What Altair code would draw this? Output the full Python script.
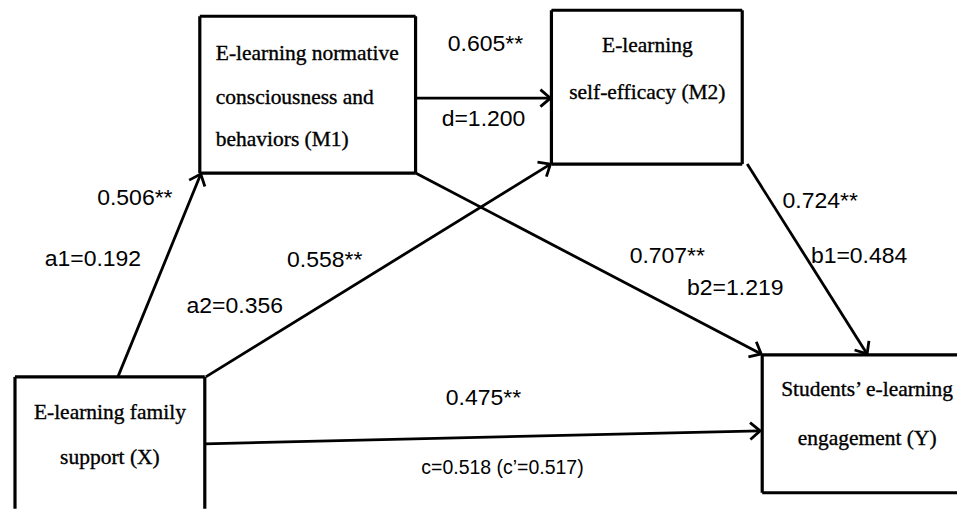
import altair as alt
import numpy as np
import pandas as pd

# ---- content ----
node_ids = ["M1", "M2", "X", "Y"]
node_lines = [
    ["E-learning normative", "consciousness and", "behaviors (M1)"],
    ["E-learning", "self-efficacy (M2)"],
    ["E-learning family", "support (X)"],
    ["Students\u2019 e-learning", "engagement (Y)"],
]
coef_labels = ["0.605**", "d=1.200", "0.506**", "a1=0.192", "0.558**", "a2=0.356",
               "0.724**", "b1=0.484", "0.707**", "b2=1.219", "0.475**"]
total_label = "c=0.518 (c\u2019=0.517)"

# ---- layout (pixel positions of the diagram) ----
box_x1 = [200, 552, 15, 763]
box_x2 = [416, 743, 205, 1100]
box_y1 = [15, 9, 376, 354]
box_y2 = [172, 163, 600, 492]

line_x = [[216, 216, 216], [648, 648], [110, 110], [868, 868]]
line_y = [[53, 97, 139], [45, 92], [412, 457], [389, 438]]

edge_x1 = [416, 118, 206, 416, 748, 205]
edge_y1 = [97, 376, 376, 172, 163, 443]
edge_x2 = [551, 201, 551, 762, 868, 761]
edge_y2 = [97, 173, 163, 353, 353, 430]

coef_x = [486, 484, 135, 93, 325, 235, 821, 860, 668, 736, 484]
coef_y = [43, 118, 197, 258, 259, 305, 200, 255, 255, 287, 397]
total_x = [503]
total_y = [467]

W, H = 951, 501
X_MAX, Y_MAX = 8 + W, 8 + H

# ---- tables ----
boxes = pd.DataFrame({"id": node_ids, "x1": box_x1, "x2": box_x2, "y1": box_y1, "y2": box_y2})

# box outlines as sides, limited to the visible area (sides past the edge are dropped)
sides = []
for _, b in boxes.iterrows():
    xr = min(b.x2, X_MAX - 1)
    yb = min(b.y2, Y_MAX - 1)
    sides.append({"x1": b.x1, "y1": b.y1, "x2": xr, "y2": b.y1})
    if b.y2 <= Y_MAX:
        sides.append({"x1": b.x1, "y1": b.y2, "x2": xr, "y2": b.y2})
    sides.append({"x1": b.x1, "y1": b.y1, "x2": b.x1, "y2": yb})
    if b.x2 <= X_MAX:
        sides.append({"x1": b.x2, "y1": b.y1, "x2": b.x2, "y2": yb})
sides = pd.DataFrame(sides)

rows = []
for nid, lines, xs_, ys_ in zip(node_ids, node_lines, line_x, line_y):
    for t, xx, yy in zip(lines, xs_, ys_):
        rows.append({"id": nid, "text": t, "x": xx, "y": yy})
node_text = pd.DataFrame(rows)
left_text = node_text[node_text["id"] == "M1"]
center_text = node_text[node_text["id"] != "M1"]

edges = pd.DataFrame({"x1": edge_x1, "y1": edge_y1, "x2": edge_x2, "y2": edge_y2})
edges["angle"] = (np.degrees(np.arctan2(edges["y2"] - edges["y1"], edges["x2"] - edges["x1"])) + 360) % 360

coefs = pd.DataFrame({"text": coef_labels, "x": coef_x, "y": coef_y})
totals = pd.DataFrame({"text": [total_label], "x": total_x, "y": total_y})

xs = alt.Scale(domain=[8, X_MAX], nice=False, zero=False)
ys = alt.Scale(domain=[8, Y_MAX], nice=False, zero=False, reverse=True)

X = lambda f: alt.X(f, type="quantitative", scale=xs, axis=None)
Y = lambda f: alt.Y(f, type="quantitative", scale=ys, axis=None)

side_layer = alt.Chart(sides).mark_rule(color="black", strokeWidth=3.2).encode(
    x=X("x1"), y=Y("y1"), x2="x2", y2="y2")

edge_layer = alt.Chart(edges).mark_rule(color="black", strokeWidth=2.8).encode(
    x=X("x1"), y=Y("y1"), x2="x2", y2="y2")

head_layer = alt.Chart(edges).mark_point(
    shape="M -1 -0.85 L 0 0 L -1 0.85", filled=False, stroke="black", strokeWidth=2.8,
    size=400, opacity=1, strokeJoin="miter").encode(
    x=X("x2"), y=Y("y2"), angle=alt.Angle("angle:Q", scale=None))

serif = "Liberation Serif, Times New Roman, serif"
sans = "Liberation Sans, Arial, sans-serif"

left_layer = alt.Chart(left_text).mark_text(
    align="left", baseline="middle", font=serif, fontSize=21.5, color="black",
    stroke="black", strokeWidth=0.35).encode(
    x=X("x"), y=Y("y"), text="text:N")

center_layer = alt.Chart(center_text).mark_text(
    align="center", baseline="middle", font=serif, fontSize=21.5, color="black",
    stroke="black", strokeWidth=0.35).encode(
    x=X("x"), y=Y("y"), text="text:N")

coef_layer = alt.Chart(coefs).mark_text(
    align="center", baseline="middle", font=sans, fontSize=23, color="black").encode(
    x=X("x"), y=Y("y"), text="text:N")

total_layer = alt.Chart(totals).mark_text(
    align="center", baseline="middle", font=sans, fontSize=19.5, color="black").encode(
    x=X("x"), y=Y("y"), text="text:N")

chart = alt.layer(side_layer, edge_layer, head_layer, left_layer, center_layer, coef_layer, total_layer).properties(
    width=W, height=H, padding=0, background="white"
).configure_view(stroke=None)

chart.save("out.html", embed_options={"renderer": "svg", "actions": False})
